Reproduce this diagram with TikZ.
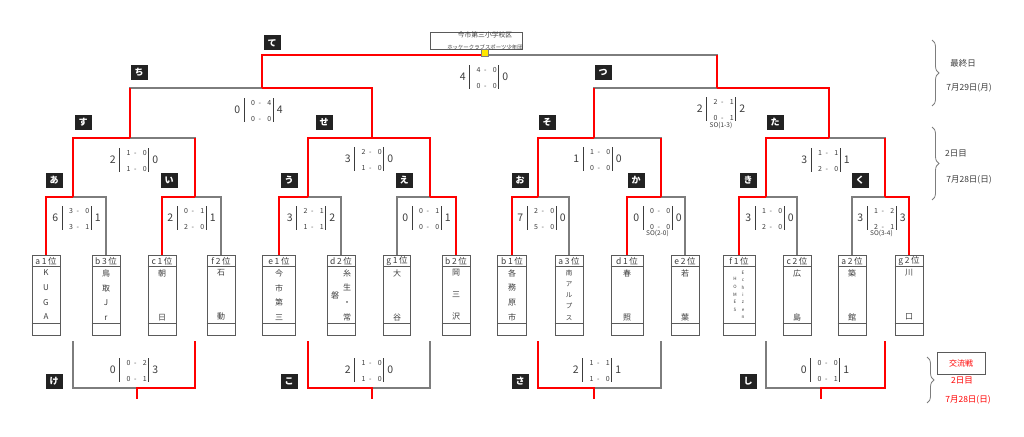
\documentclass[tikz,border=0pt]{standalone}
\usepackage{fontspec}
\setmainfont{Noto Sans CJK JP}
\usetikzlibrary{positioning,decorations.pathreplacing,calc}
\definecolor{lngray}{RGB}{125,125,125}
\definecolor{boxgray}{RGB}{90,90,90}
\definecolor{lnred}{RGB}{255,0,0}
\definecolor{tagblack}{RGB}{34,34,34}
\definecolor{txtgray}{RGB}{60,60,60}
\definecolor{cupyellow}{RGB}{255,230,0}

% header of a team box: a1 -> a 1 位
\newcommand\hd[2]{#1\kern1.6pt#2\kern1.6pt位}
% team box: id, x, width, header, line skip, name
\newcommand\team[6]{%
  \node[teambox,minimum width=#3] (#1) at (#2,295) {};
  \draw[boxline] ([yshift=-12pt]#1.north west) -- ([yshift=-12pt]#1.north east)
    ([yshift=12pt]#1.south west) -- ([yshift=12pt]#1.south east);
  \node[hdtext] (#1-h) at (#2,261.5) {\hd#4};
  \node[nametext,font=\fontsize{8}{#5}\selectfont] (#1-n) at (#2,295) {#6};}
% score: x, y, left, a, b, c, d, right, id
\newcommand\score[9]{%
  \node[rows] (#9) at (#1,#2) {\begin{tabular}{@{\hspace{7pt}}l@{\hspace{3.5pt}-\hspace{6.5pt}}r@{\hspace{1.5pt}}}#4&#5\\#6&#7\end{tabular}};
  \draw[scorebar] ([yshift=12pt]#9.west) -- ([yshift=-12pt]#9.west)
    ([yshift=12pt]#9.east) -- ([yshift=-12pt]#9.east);
  \node[bignum,anchor=east] (#9-l) at ([xshift=-3.5pt]#9.west) {#3};
  \node[bignum,anchor=west] (#9-r) at ([xshift=3.5pt]#9.east) {#8};}

\begin{document}
\begin{tikzpicture}[x=1pt,y=-1pt,
  brk/.style={draw=lngray,line width=1.3pt},
  brkwin/.style={draw=lnred,line width=2.3pt},
  teambox/.style={draw=boxgray,line width=0.9pt,minimum height=80pt,inner sep=0pt},
  boxline/.style={draw=boxgray,line width=0.9pt},
  hdtext/.style={font=\fontsize{8.5}{9}\selectfont,text=txtgray,inner sep=0pt},
  nametext/.style={align=center,text=txtgray,inner sep=0pt},
  tag/.style={fill=tagblack,text=white,font=\fontsize{9}{9}\selectfont\bfseries,minimum width=17pt,minimum height=15pt,inner sep=0pt},
  rows/.style={font=\fontsize{7}{16.5}\selectfont,text=txtgray,inner sep=0pt},
  bignum/.style={font=\fontsize{10.5}{11}\selectfont,text=txtgray,inner sep=0pt},
  scorebar/.style={draw=txtgray,line width=0.9pt},
  sotext/.style={font=\fontsize{6.5}{7}\selectfont,text=txtgray,inner sep=0pt},
  daytext/.style={font=\fontsize{8.5}{10}\selectfont,text=txtgray},
  redtext/.style={font=\fontsize{8.5}{10}\selectfont,text=lnred},
  daybrace/.style={decorate,decoration={brace,amplitude=7pt},draw=lngray,line width=0.8pt}]
\useasboundingbox (0,0) rectangle (1024,436);

% teams
\team{a1}{46}{28}{a1}{14.67}{K\\U\\G\\A}
\team{b3}{106}{28}{b3}{14.67}{鳥\\取\\J\\r}
\team{c1}{162}{28}{c1}{44}{朝\\日}
\team{f2}{221}{28}{f2}{44}{石\\動}
\team{e1}{279}{33}{e1}{14.67}{今\\市\\第\\三}
\team{d2}{341}{28}{d2}{14.67}{}
\team{g1}{397}{27}{g1}{44}{大\\谷}
\team{b2}{456}{28}{b2}{22}{岡\\三\\沢}
\team{b1}{512}{29}{b1}{14.67}{各\\務\\原\\市}
\team{a3}{569}{28}{a3}{11.25}{}
\team{d1}{627}{32}{d1}{44}{春\\照}
\team{e2}{685}{28}{e2}{44}{若\\葉}
\team{f1}{739}{32}{f1}{7}{}
\team{c2}{797}{28}{c2}{44}{広\\島}
\team{a2}{852}{28}{a2}{44}{築\\館}
\team{g2}{909}{28}{g2}{44}{川\\口}
\node[nametext,font=\fontsize{8}{14.67}\selectfont] (d2-n1) at (347,295) {糸\\生\\・\\常};
\node[nametext,font=\fontsize{8}{9}\selectfont] (d2-n2) at (335,295) {磐};
\node[nametext,font=\fontsize{6.5}{11.25}\selectfont] (a3-n1) at (569,295) {南\\ア\\ル\\プ\\ス};
\node[nametext,font=\fontsize{4.5}{7.33}\selectfont] (f1-n1) at (743,295) {E\\c\\h\\i\\z\\e\\n};
\node[nametext,font=\fontsize{4.5}{7.75}\selectfont] (f1-n2) at (735,294.5) {H\\O\\M\\E\\S};

% match points
\coordinate (mA) at (73,197);   \coordinate (mI) at (195,197);
\coordinate (mU) at (308,197);  \coordinate (mE) at (430,197);
\coordinate (mO) at (538,197);  \coordinate (mKa) at (661,197);
\coordinate (mKi) at (766,197); \coordinate (mKu) at (885,197);
\coordinate (mSu) at (130,138); \coordinate (mSe) at (372,138);
\coordinate (mSo) at (594,138); \coordinate (mTa) at (829,138);
\coordinate (mChi) at (262,88); \coordinate (mTsu) at (717,88);
\coordinate (mTe) at (484,55);
\coordinate (lo) at (0,341);
\coordinate (mKe) at (137,388); \coordinate (mKo) at (372,388);
\coordinate (mSa) at (594,388); \coordinate (mShi) at (821,388);
\coordinate (sKe) at (137,399); \coordinate (sKo) at (372,399);
\coordinate (sSa) at (594,399); \coordinate (sShi) at (821,399);

% brackets
\draw[brk] (a1.north) |- (mA) -| (b3.north);
\draw[brk] (c1.north) |- (mI) -| (f2.north);
\draw[brk] (e1.north) |- (mU) -| (d2.north);
\draw[brk] (g1.north) |- (mE) -| (b2.north);
\draw[brk] (b1.north) |- (mO) -| (a3.north);
\draw[brk] (d1.north) |- (mKa) -| (e2.north);
\draw[brk] (f1.north) |- (mKi) -| (c2.north);
\draw[brk] (a2.north) |- (mKu) -| (g2.north);
\draw[brk] (mA) |- (mSu) -| (mI);
\draw[brk] (mU) |- (mSe) -| (mE);
\draw[brk] (mO) |- (mSo) -| (mKa);
\draw[brk] (mKi) |- (mTa) -| (mKu);
\draw[brk] (mSu) |- (mChi) -| (mSe);
\draw[brk] (mSo) |- (mTsu) -| (mTa);
\draw[brk] (mChi) |- (mTe) -| (mTsu);
\draw[brk] (mA |- lo) |- (mKe) -| (mI |- lo);
\draw[brk] (mU |- lo) |- (mKo) -| (mE |- lo);
\draw[brk] (mO |- lo) |- (mSa) -| (mKa |- lo);
\draw[brk] (mKi |- lo) |- (mShi) -| (mKu |- lo);

% winners
\draw[brkwin] (a1.north) |- (mA);
\draw[brkwin] (c1.north) |- (mI);
\draw[brkwin] (e1.north) |- (mU);
\draw[brkwin] (b2.north) |- (mE);
\draw[brkwin] (b1.north) |- (mO);
\draw[brkwin] (d1.north) |- (mKa);
\draw[brkwin] (f1.north) |- (mKi);
\draw[brkwin] (g2.north) |- (mKu);
\draw[brkwin] (mA) |- (mSu) (mI) -- (mI |- mSu);
\draw[brkwin] (mU) |- (mSe) -| (mE);
\draw[brkwin] (mO) |- (mSo) (mKa) -- (mKa |- mSo);
\draw[brkwin] (mKi) |- (mTa) (mKu) -- (mKu |- mTa);
\draw[brkwin] (mSe) |- (mChi) (mSu) -- (mSu |- mChi);
\draw[brkwin] (mTa) |- (mTsu) (mSo) -- (mSo |- mTsu);
\draw[brkwin] (mChi) |- (mTe) (mTsu) -- (mTsu |- mTe);
\draw[brkwin] (mI |- lo) |- (mKe) -- (sKe);
\draw[brkwin] (mU |- lo) |- (mKo) -- (sKo);
\draw[brkwin] (mO |- lo) |- (mSa) -- (sSa);
\draw[brkwin] (mKu |- lo) |- (mShi) -- (sShi);

% title
\node[draw=boxgray,line width=0.8pt,minimum width=92pt,minimum height=17pt,inner sep=0pt] (title) at (476,40.5) {};
\node[align=center,text=txtgray,inner sep=0pt] (title-t) at (485,40.5) {\fontsize{6.8}{9.5}\selectfont 今市第三小学校区\\\fontsize{5.4}{9.5}\selectfont ホッケークラブスポーツ少年団};
\node[draw=lngray,line width=0.5pt,fill=cupyellow,minimum size=7pt,inner sep=0pt] (cup) at (484.5,52.5) {};

% scores
\score{76.5}{218}{6}{3}{0}{3}{1}{1}{sA}
\score{191.5}{218}{2}{0}{1}{2}{0}{1}{sI}
\score{311}{218}{3}{2}{1}{1}{1}{2}{sU}
\score{426.5}{218}{0}{0}{1}{0}{0}{1}{sE}
\score{541.5}{218}{7}{2}{0}{5}{0}{0}{sO}
\score{657.5}{218}{0}{0}{0}{0}{0}{0}{sKa}
\score{769.5}{218}{3}{1}{0}{2}{0}{0}{sKi}
\score{881.5}{218}{3}{1}{2}{2}{1}{3}{sKu}
\score{134}{160}{2}{1}{0}{1}{0}{0}{sSu}
\score{369}{159}{3}{2}{0}{1}{0}{0}{sSe}
\score{597.5}{159}{1}{1}{0}{0}{0}{0}{sSo}
\score{825.5}{160}{3}{1}{1}{2}{0}{1}{sTa}
\score{258.5}{110}{0}{0}{4}{0}{0}{4}{sChi}
\score{721}{109}{2}{2}{1}{0}{1}{2}{sTsu}
\score{484}{77}{4}{4}{0}{0}{0}{0}{sTe}
\score{134}{370}{0}{0}{2}{0}{1}{3}{sKe}
\score{369}{370}{2}{1}{0}{1}{0}{0}{sKo}
\score{597}{370}{2}{1}{1}{1}{0}{1}{sSa}
\score{825}{370}{0}{0}{0}{0}{1}{1}{sShi}
\node[sotext] (soKa) at (657.5,233.5) {SO(2-0)};
\node[sotext] (soKu) at (881.5,233.5) {SO(3-4)};
\node[sotext] (soTsu) at (721,125) {SO(1-3)};

% match tags
\node[tag] (tTe) at (272,43) {て};
\node[tag] (tChi) at (139,72) {ち};
\node[tag] (tTsu) at (603,72) {つ};
\node[tag] (tSu) at (83,122) {す};
\node[tag] (tSe) at (324,122) {せ};
\node[tag] (tSo) at (547,122) {そ};
\node[tag] (tTa) at (775,122) {た};
\node[tag] (tA) at (54,180) {あ};
\node[tag] (tI) at (169,180) {い};
\node[tag] (tU) at (289,180) {う};
\node[tag] (tE) at (404,180) {え};
\node[tag] (tO) at (520,180) {お};
\node[tag] (tKa) at (636,180) {か};
\node[tag] (tKi) at (748,180) {き};
\node[tag] (tKu) at (860,180) {く};
\node[tag] (tKe) at (54,381) {け};
\node[tag] (tKo) at (289,381) {こ};
\node[tag] (tSa) at (520,381) {さ};
\node[tag] (tShi) at (748,381) {し};

% days
\draw[daybrace] (932,40) -- (932,106);
\draw[daybrace] (932,127) -- (932,200);
\draw[daybrace] (927,357) -- (927,403);
\node[daytext] (day3) at (963,63) {最終日};
\node[daytext] (day3d) at (969,88) {7月29日(月)};
\node[daytext] (day2) at (956,154) {2日目};
\node[daytext] (day2d) at (969,180) {7月28日(日)};
\node[draw=boxgray,line width=0.8pt,minimum width=48pt,minimum height=22pt,inner sep=0pt,font=\fontsize{8}{9}\selectfont,text=lnred] (xbox) at (961,363) {交流戦};
\node[redtext] (xday) at (962,381) {2日目};
\node[redtext] (xdate) at (968,400) {7月28日(日)};
\end{tikzpicture}
\end{document}
